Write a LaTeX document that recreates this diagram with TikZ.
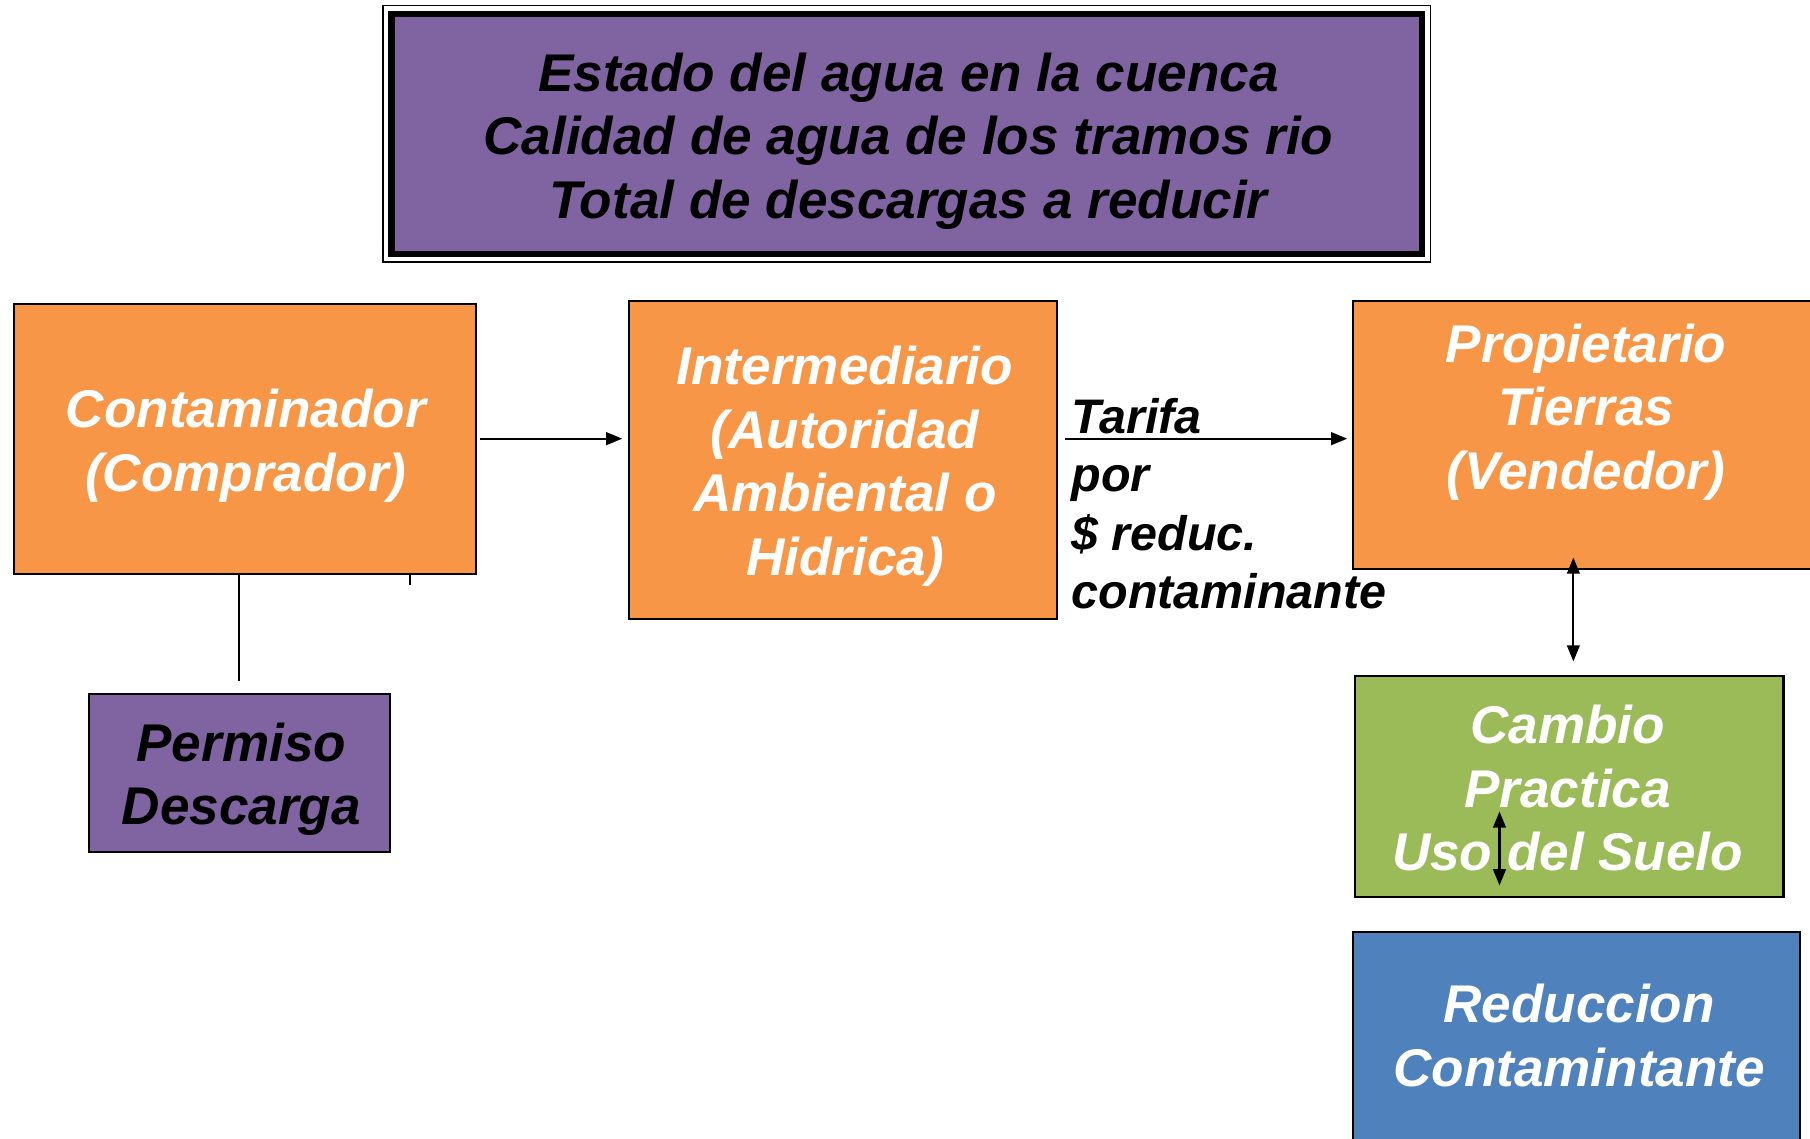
\documentclass[tikz,border=0pt]{standalone}
\usepackage{fontspec}
\setmainfont{Liberation Sans}
\usetikzlibrary{arrows.meta,calc}
\definecolor{orangeF}{HTML}{F79646}
\definecolor{purpleF}{HTML}{8064A2}
\definecolor{greenF}{HTML}{9BBB59}
\definecolor{blueF}{HTML}{4F81BD}
\tikzset{
  boxbase/.style={draw=black, line width=1.8pt, inner sep=0pt},
  orangebox/.style={boxbase, fill=orangeF},
  purplebox/.style={boxbase, fill=purpleF},
  greenbox/.style={boxbase, fill=greenF},
  bluebox/.style={boxbase, fill=blueF},
  boxtext/.style={inner sep=0pt, align=center, text=white,
    font=\fontsize{46}{55}\selectfont\bfseries\itshape},
  darktext/.style={boxtext, text=black},
  labeltext/.style={inner sep=0pt, align=left, text=black,
    font=\fontsize{42}{50.5}\selectfont\bfseries\itshape},
  conn/.style={line width=1.8pt},
  arr/.style={conn, -{Triangle[length=14pt,width=11pt]}},
  darr/.style={conn, {Triangle[length=14pt,width=11pt]}-{Triangle[length=14pt,width=11pt]}},
}
\begin{document}
\begin{tikzpicture}[x=1pt,y=-1pt]
\useasboundingbox (0,0) rectangle (1568,986);
\fill[white] (0,0) rectangle (1568,986);

% top box
\node[purplebox, line width=5.5pt, minimum width=893pt, minimum height=208pt] (top) at (785.5,116) {};
\draw[line width=1.5pt] ($(top.north west)+(-4.5,-4.5)$) rectangle ($(top.south east)+(4.5,4.5)$);
\node[darktext] (toptxt) at (787,122) {Estado del agua en la cuenca\\Calidad de agua de los tramos rio\\Total de descargas a reducir};

% Contaminador
\node[orangebox, minimum width=400pt, minimum height=234pt] (cont) at (212,380) {};
\node[boxtext] (conttxt) at (213,386) {Contaminador\\(Comprador)};

% Intermediario
\node[orangebox, minimum width=371pt, minimum height=275pt] (interm) at (730.5,398.5) {};
\node[boxtext] (intermtxt) at (732,404) {Intermediario\\(Autoridad\\Ambiental o\\Hidrica)};

% Propietario (extends past right edge)
\node[orangebox, minimum width=410pt, minimum height=232pt] (prop) at (1377,377) {};
\node[boxtext] (proptxt) at (1374,357) {Propietario\\Tierras\\(Vendedor)};

% Permiso
\node[purplebox, minimum width=261pt, minimum height=137pt] (perm) at (207.5,669.5) {};
\node[darktext] (permtxt) at (209,675) {Permiso\\Descarga};

% Cambio
\node[greenbox, minimum width=371pt, minimum height=191pt] (camb) at (1359.5,681.5) {};
\node[boxtext] (cambtxt) at (1358,683) {Cambio\\Practica\\Uso del Suelo};

% Reduccion (extends past bottom edge)
\node[bluebox, minimum width=387pt, minimum height=190pt] (red) at (1365.5,902) {};
\node[boxtext] (redtxt) at (1368,897) {Reduccion\\Contamintante};

% label
\node[labeltext, anchor=north west] (tarifa) at (928,345) {Tarifa\\por\\\$ reduc.\\contaminante};

% connectors
\draw[arr, shorten <=3pt, shorten >=5pt] (cont.east) -- (cont.east -| interm.west);
\draw[arr, shorten <=6pt, shorten >=4pt] (interm.east |- cont.east) -- (prop.west |- cont.east);

\coordinate (pe) at (207,590);
\draw[conn] (cont.south -| pe) -- (pe);
\coordinate (tk) at (355,507);
\draw[conn] (cont.south -| tk) -- (tk);

\coordinate (da1) at (1363,483);
\coordinate (da2) at (1363,573);
\draw[darr] (da1) -- (da2);

\coordinate (sa1) at (1299,703);
\coordinate (sa2) at (1299,767);
\draw[darr] (sa1) -- (sa2);
\end{tikzpicture}
\end{document}
